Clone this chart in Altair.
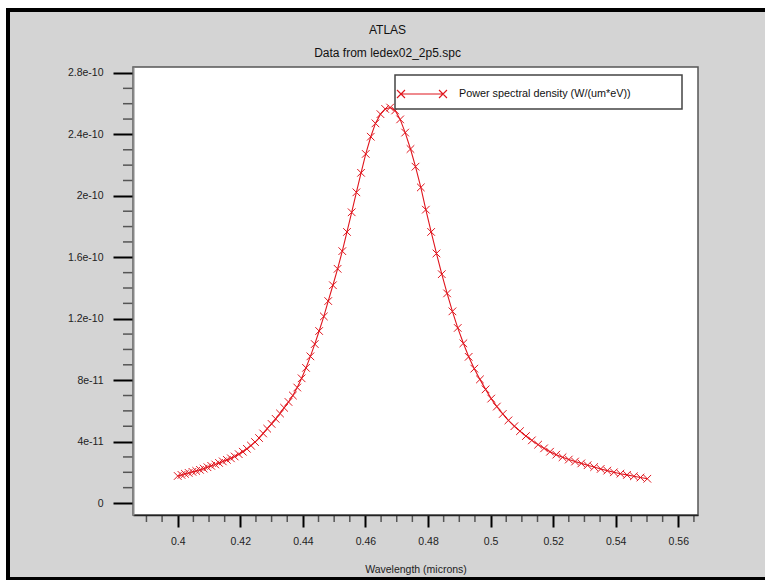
import altair as alt
import pandas as pd

# ---- data ----
wavelength = [
    0.4000, 0.4012, 0.4023, 0.4035, 0.4047, 0.4059, 0.4071, 0.4083, 0.4095, 0.4107,
    0.4120, 0.4132, 0.4144, 0.4157, 0.4170, 0.4182, 0.4195, 0.4208, 0.4221, 0.4234,
    0.4247, 0.4260, 0.4273, 0.4286, 0.4300, 0.4313, 0.4327, 0.4340, 0.4354, 0.4368,
    0.4382, 0.4396, 0.4410, 0.4424, 0.4438, 0.4452, 0.4467, 0.4481, 0.4496, 0.4511,
    0.4526, 0.4541, 0.4556, 0.4571, 0.4586, 0.4601, 0.4617, 0.4632, 0.4648, 0.4663,
    0.4679, 0.4695, 0.4711, 0.4727, 0.4744, 0.4760, 0.4777, 0.4793, 0.4810, 0.4827,
    0.4844, 0.4861, 0.4878, 0.4895, 0.4913, 0.4930, 0.4948, 0.4966, 0.4984, 0.5002,
    0.5020, 0.5039, 0.5057, 0.5076, 0.5094, 0.5113, 0.5132, 0.5152, 0.5171, 0.5190,
    0.5210, 0.5230, 0.5250, 0.5270, 0.5290, 0.5310, 0.5331, 0.5352, 0.5373, 0.5394,
    0.5415, 0.5436, 0.5458, 0.5479, 0.5501,
]
# power spectral density, in units of 1e-12 W/(um*eV)
psd_e12 = [
    17.6, 18.3, 19.0, 19.6, 20.3, 20.9, 21.6, 22.4, 23.3, 24.2,
    25.1, 26.1, 27.1, 28.1, 29.1, 30.3, 31.8, 33.4, 35.3, 37.4,
    39.7, 42.3, 45.3, 48.4, 51.5, 54.8, 58.3, 62.0, 65.8, 70.0,
    75.2, 81.2, 88.0, 95.5, 103.5, 112.0, 121.5, 131.5, 141.8, 152.5,
    164.0, 176.5, 189.3, 202.3, 215.0, 227.3, 238.5, 247.2, 253.2, 256.6,
    257.5, 255.6, 249.8, 241.2, 230.5, 219.0, 205.5, 191.0, 176.5, 162.5,
    149.0, 136.5, 124.8, 114.0, 104.0, 95.2, 87.5, 80.5, 74.0, 68.0,
    62.8, 58.0, 53.8, 50.0, 46.8, 43.6, 40.8, 38.0, 35.6, 33.4,
    31.5, 29.8, 28.3, 27.0, 25.8, 24.6, 23.4, 22.2, 21.1, 20.0,
    19.1, 18.3, 17.4, 16.6, 15.8,
]
series_name = "Power spectral density (W/(um*eV))"

x_major = [0.40, 0.42, 0.44, 0.46, 0.48, 0.50, 0.52, 0.54, 0.56]
x_minor = [0.390, 0.395, 0.405, 0.410, 0.415, 0.425, 0.430, 0.435, 0.445, 0.450,
           0.455, 0.465, 0.470, 0.475, 0.485, 0.490, 0.495, 0.505, 0.510, 0.515,
           0.525, 0.530, 0.535, 0.545, 0.550, 0.555, 0.565]
y_major = [0, 4e-11, 8e-11, 1.2e-10, 1.6e-10, 2e-10, 2.4e-10, 2.8e-10]
y_minor = [1e-11, 2e-11, 3e-11, 5e-11, 6e-11, 7e-11, 9e-11, 1e-10, 1.1e-10,
           1.3e-10, 1.4e-10, 1.5e-10, 1.7e-10, 1.8e-10, 1.9e-10, 2.1e-10, 2.2e-10,
           2.3e-10, 2.5e-10, 2.6e-10, 2.7e-10]

df = pd.DataFrame({
    "wavelength": wavelength,
    "psd": [v * 1e-12 for v in psd_e12],
    "series": [series_name] * len(wavelength),
})

FONT = "Liberation Sans"
W, H = 565, 448
RED = "#e0161e"
xscale = alt.Scale(domain=[0.3857, 0.5663], nice=False, zero=False)
yscale = alt.Scale(domain=[-7.8e-12, 2.839e-10], nice=False, zero=False)

xaxis = alt.Axis(values=x_major, labelExpr="format(datum.value, '.2~f')",
                 tickSize=12, tickWidth=2, tickColor="black",
                 domainColor="#222", domainWidth=1.5, grid=False,
                 labelFont=FONT, labelFontSize=10.5, labelColor="#222",
                 labelPadding=9, title="Wavelength (microns)",
                 titleFont=FONT, titleFontSize=10.5, titleFontWeight="normal",
                 titleColor="#222", titlePadding=18, zindex=1)
yaxis = alt.Axis(values=y_major,
                 labelExpr="datum.value == 0 ? '0' : format(datum.value, '~e')",
                 tickSize=20, tickWidth=2, tickColor="black",
                 domainColor="#888", domainWidth=2, grid=False,
                 labelFont=FONT, labelFontSize=10.5, labelColor="#222",
                 labelPadding=10, title="", zindex=1)

color = alt.Color("series:N", scale=alt.Scale(domain=[series_name], range=[RED]),
                  legend=alt.Legend(
                      title=None, orient="none", legendX=267, legendY=5, padding=0,
                      symbolType="M-1,0L1,0M-1.19,-0.19L-0.81,0.19M-1.19,0.19L-0.81,-0.19"
                                 "M0.81,-0.19L1.19,0.19M0.81,0.19L1.19,-0.19",
                      symbolSize=1764, symbolStrokeWidth=1.1, labelOffset=15,
                      labelLimit=400,
                      labelFont=FONT, labelFontSize=10.8, labelColor="#111"))

one = pd.DataFrame({"k": [0]})

frame = alt.Chart(one).mark_rect(fill="#d4d4d4", stroke="black", strokeWidth=4).encode(
    x=alt.value(-125), x2=alt.value(680), y=alt.value(-57), y2=alt.value(512))

plot_bg = alt.Chart(one).mark_rect(fill="white", stroke="#555", strokeWidth=1.5).encode(
    x=alt.value(0), x2=alt.value(W), y=alt.value(0), y2=alt.value(H))

ymin = alt.Chart(pd.DataFrame({"v": y_minor})).mark_rule(color="#555", strokeWidth=1.5).encode(
    y=alt.Y("v:Q", scale=yscale, axis=yaxis), x=alt.value(-10), x2=alt.value(0))

xmin = alt.Chart(pd.DataFrame({"v": x_minor})).mark_rule(color="#555", strokeWidth=1.5).encode(
    x=alt.X("v:Q", scale=xscale, axis=xaxis), y=alt.value(H), y2=alt.value(H + 7))

base = alt.Chart(df).encode(
    x=alt.X("wavelength:Q", scale=xscale, axis=xaxis),
    y=alt.Y("psd:Q", scale=yscale, axis=yaxis),
    color=color,
)

line = base.mark_line(strokeWidth=1.1)
points = base.mark_point(shape="M-1,-1L1,1M-1,1L1,-1", size=58, filled=False,
                         strokeWidth=1, opacity=1)

legend_box = alt.Chart(one).mark_rect(fill="white", stroke="#444", strokeWidth=1.5).encode(
    x=alt.value(262), x2=alt.value(549), y=alt.value(8), y2=alt.value(42))

chart = alt.layer(frame, plot_bg, ymin, xmin, line, points, legend_box).properties(
    width=W, height=H,
    padding={"left": 133, "top": 67, "right": 67, "bottom": 65},
    autosize=alt.AutoSizeParams(type="none"),
    background="white",
    title=alt.TitleParams("ATLAS", subtitle=["Data from ledex02_2p5.spc"],
                          anchor="middle", frame="group", dx=-28, dy=61,
                          font=FONT, fontSize=12,
                          fontWeight="normal", color="#111", subtitleFont=FONT,
                          subtitleFontSize=12, subtitleColor="#111",
                          offset=9, subtitlePadding=11),
).configure_view(strokeWidth=0)

chart.save("out.html", embed_options={"renderer": "svg", "actions": False})
